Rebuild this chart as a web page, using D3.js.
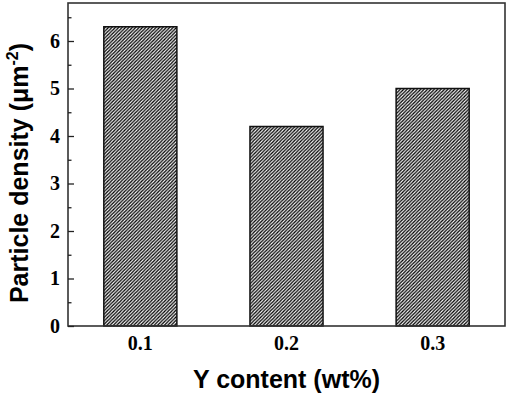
<!DOCTYPE html>
<html>
<head>
<meta charset="utf-8">
<script src="https://cdn.jsdelivr.net/npm/d3@7"></script>
<style>
  body { margin: 0; background: #fff; }
</style>
</head>
<body>
<script>
var categories = ["0.1", "0.2", "0.3"];
var density = [6.3, 4.2, 5.0];
var yTicks = [0, 1, 2, 3, 4, 5, 6];
var yMinorTicks = [0.5, 1.5, 2.5, 3.5, 4.5, 5.5, 6.5];

var w = 510, h = 396;
var plotLeft = 68, plotRight = 505, plotTop = 3, plotBottom = 326;

var svg = d3.select("body").append("svg").attr("width", w).attr("height", h);

// hatch pattern ///
var p = 3.4;
svg.append("defs").append("pattern")
    .attr("id", "hatch")
    .attr("patternUnits", "userSpaceOnUse")
    .attr("width", p).attr("height", p)
    .append("path")
    .attr("d", "M" + (-p / 2) + "," + (p / 2) + " l" + p + "," + (-p) +
               " M0," + p + " l" + p + "," + (-p) +
               " M" + (p / 2) + "," + (p * 1.5) + " l" + p + "," + (-p))
    .attr("stroke", "#000")
    .attr("stroke-width", 1.3);

var xScale = d3.scaleBand()
    .domain(categories)
    .range([plotLeft, plotRight])
    .paddingInner(0.5)
    .paddingOuter(0.245);

var yScale = d3.scaleLinear()
    .domain([0, 6.8])
    .range([plotBottom, plotTop]);

// bars
svg.selectAll("rect.bar")
    .data(density).enter()
    .append("rect")
    .attr("class", "bar")
    .attr("x", (d, i) => xScale(categories[i]))
    .attr("y", d => yScale(d))
    .attr("width", xScale.bandwidth())
    .attr("height", d => plotBottom - yScale(d))
    .attr("fill", "url(#hatch)")
    .attr("stroke", "#111")
    .attr("stroke-width", 1.5);

// frame
svg.append("rect")
    .attr("x", plotLeft).attr("y", plotTop)
    .attr("width", plotRight - plotLeft).attr("height", plotBottom - plotTop)
    .attr("fill", "none")
    .attr("stroke", "#333")
    .attr("stroke-width", 1.6);

// y axis ticks (inward)
var yAxis = d3.axisRight(yScale)
    .tickValues(yTicks)
    .tickSize(6)
    .tickFormat("");
var gy = svg.append("g").attr("transform", "translate(" + plotLeft + ",0)").call(yAxis);
gy.select(".domain").remove();
gy.selectAll("line").attr("stroke", "#222").attr("stroke-width", 1.3);

var yMinor = d3.axisRight(yScale)
    .tickValues(yMinorTicks)
    .tickSize(3.5)
    .tickFormat("");
var gym = svg.append("g").attr("transform", "translate(" + plotLeft + ",0)").call(yMinor);
gym.select(".domain").remove();
gym.selectAll("line").attr("stroke", "#222").attr("stroke-width", 1.3);

// y tick labels
svg.selectAll("text.ylab")
    .data(yTicks).enter()
    .append("text")
    .attr("class", "ylab")
    .text(d => d)
    .attr("x", 60)
    .attr("y", d => yScale(d))
    .attr("dy", "0.34em")
    .attr("text-anchor", "end")
    .attr("font-family", "Liberation Serif, serif")
    .attr("font-weight", "bold")
    .attr("font-size", "20px")
    .attr("fill", "#000");

// x tick labels
svg.selectAll("text.xlab")
    .data(categories).enter()
    .append("text")
    .attr("class", "xlab")
    .text(d => d)
    .attr("x", d => xScale(d) + xScale.bandwidth() / 2)
    .attr("y", 350)
    .attr("text-anchor", "middle")
    .attr("font-family", "Liberation Serif, serif")
    .attr("font-weight", "bold")
    .attr("font-size", "20px")
    .attr("fill", "#000");

// axis titles
svg.append("text")
    .text("Y content (wt%)")
    .attr("x", (plotLeft + plotRight) / 2)
    .attr("y", 388)
    .attr("text-anchor", "middle")
    .attr("font-family", "Liberation Sans, Arial, sans-serif")
    .attr("font-weight", "bold")
    .attr("font-size", "25px")
    .attr("fill", "#000");

var yt = svg.append("text")
    .attr("transform", "translate(28,173) rotate(-90)")
    .attr("text-anchor", "middle")
    .attr("font-family", "Liberation Sans, Arial, sans-serif")
    .attr("font-weight", "bold")
    .attr("font-size", "25px")
    .attr("fill", "#000");
yt.append("tspan").text("Particle density (\u03bcm");
yt.append("tspan").text("-2").attr("font-size", "16px").attr("dy", "-10");
yt.append("tspan").text(")").attr("dy", "10");
</script>
</body>
</html>
